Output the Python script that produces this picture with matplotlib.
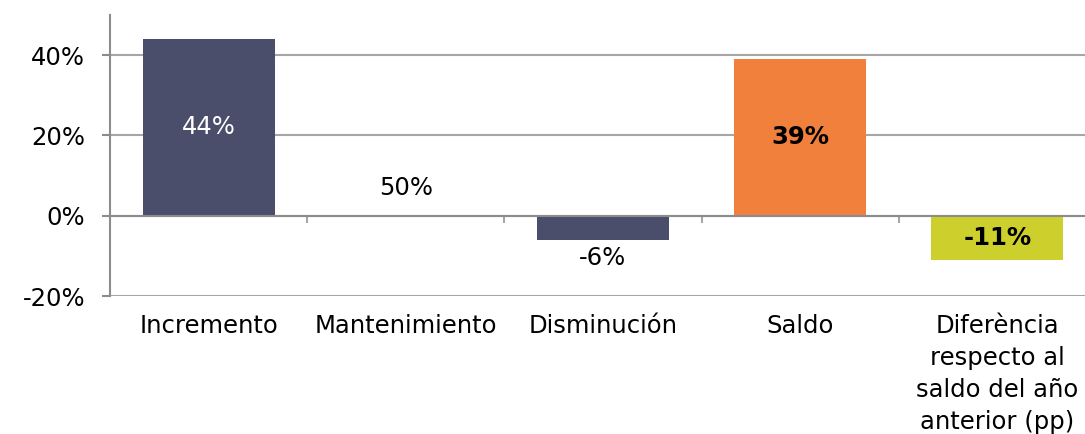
import matplotlib.pyplot as plt

plt.rcParams['font.family'] = ['DejaVu Sans']

categories = ['Incremento', 'Mantenimiento', 'Disminución', 'Saldo',
              'Diferència\nrespecto al\nsaldo del año\nanterior (pp)']
values = [44, 50, -6, 39, -11]
labels = ['44%', '50%', '-6%', '39%', '-11%']
label_y = [22, 7, -10.5, 19.5, -5.5]
colors = ['#4a4e6b', 'none', '#4a4e6b', '#f0803c', '#cdcf2c']
label_colors = ['white', 'black', 'black', 'black', 'black']
label_weights = ['normal', 'normal', 'normal', 'bold', 'bold']
yticks = [-20, 0, 20, 40]
fs = 17.5

fig = plt.figure(figsize=(10.85, 4.34), dpi=100)
ax = fig.add_axes([110 / 1085, (434 - 296) / 434, (1096 - 110) / 1085, 281 / 434])

x = list(range(len(categories)))
ax.bar(x, values, width=0.67, color=colors, zorder=3)

for i in x:
    ax.text(i, label_y[i], labels[i], ha='center', va='center', fontsize=fs,
            color=label_colors[i], fontweight=label_weights[i], zorder=4)
    ax.annotate(categories[i], (i, -20), xytext=(0, -13), textcoords='offset points',
                ha='center', va='top', fontsize=fs, linespacing=1.42,
                annotation_clip=False)

ax.set_xlim(-0.5, len(categories) - 0.5)
ax.set_ylim(-20, 50)
ax.set_yticks(yticks)
ax.set_yticklabels([f'{v}%' for v in yticks], fontsize=fs)
ax.yaxis.grid(True, color='#a6a6a6', linewidth=1.5, zorder=0)
ax.set_axisbelow(True)

for s in ['top', 'right']:
    ax.spines[s].set_visible(False)
ax.spines['left'].set_color('#8c8c8c')
ax.spines['left'].set_linewidth(1.5)
ax.spines['bottom'].set_position(('data', 0))
ax.spines['bottom'].set_color('#8c8c8c')
ax.spines['bottom'].set_linewidth(1.5)
ax.spines['bottom'].set_zorder(5)

ax.set_xticks([i + 0.5 for i in x[:-1]])
ax.set_xticklabels([])
ax.tick_params(axis='x', length=5, width=1.5, color='#a6a6a6', direction='out')
ax.tick_params(axis='y', length=6, width=1.5, color='#8c8c8c', pad=12)

fig.savefig('out.png', dpi=100)
